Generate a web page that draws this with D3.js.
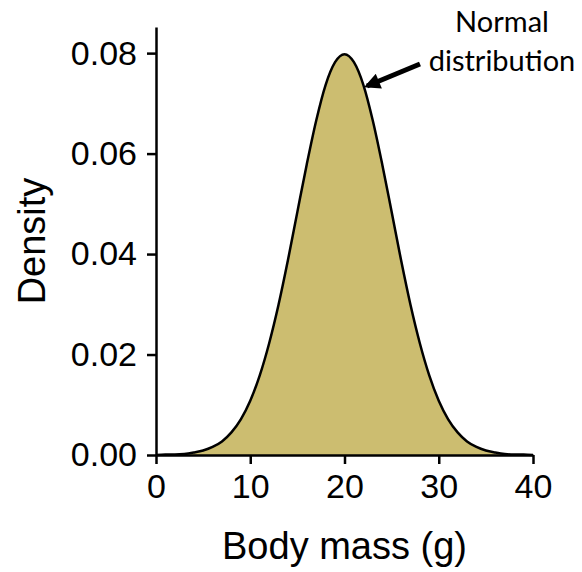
<!DOCTYPE html>
<html>
<head>
<meta charset="utf-8">
<script src="https://cdn.jsdelivr.net/npm/d3@7"></script>
<style>
  body { margin: 0; background: #fff; }
</style>
</head>
<body>
<div id="chart"></div>
<script>
const width = 582;
const height = 572;
const font = "'Liberation Sans', Arial, Helvetica, sans-serif";

const mass = d3.range(0, 41);
const density = [
  0.0000, 0.0001, 0.0001, 0.0002, 0.0005, 0.0009, 0.0016, 0.0027, 0.0045, 0.0071,
  0.0108, 0.0158, 0.0222, 0.0299, 0.0388, 0.0484, 0.0579, 0.0666, 0.0737, 0.0782,
  0.0798,
  0.0782, 0.0737, 0.0666, 0.0579, 0.0484, 0.0388, 0.0299, 0.0222, 0.0158, 0.0108,
  0.0071, 0.0045, 0.0027, 0.0016, 0.0009, 0.0005, 0.0002, 0.0001, 0.0001, 0.0000
];
const xTicks = [0, 10, 20, 30, 40];
const yTicks = [0, 0.02, 0.04, 0.06, 0.08];
const annotation = ["Normal", "distribution"];

const data = mass.map((m, i) => ({ mass: m, density: density[i] }));

const svg = d3.select("#chart").append("svg")
  .attr("width", width)
  .attr("height", height);

const x = d3.scaleLinear().domain([0, 40]).range([156, 533]);
const y = d3.scaleLinear().domain([0, 0.0852]).range([455, 27]);

const area = d3.area()
  .x(d => x(d.mass))
  .y0(y(0))
  .y1(d => y(d.density))
  .curve(d3.curveMonotoneX);

const line = d3.line()
  .x(d => x(d.mass))
  .y(d => y(d.density))
  .curve(d3.curveMonotoneX);

svg.append("path")
  .datum(data)
  .attr("fill", "#ccbd70")
  .attr("d", area);

svg.append("path")
  .datum(data)
  .attr("fill", "none")
  .attr("stroke", "#000")
  .attr("stroke-width", 2.5)
  .attr("d", line);

// axes
const xAxis = svg.append("g")
  .attr("transform", `translate(0,${y(0)})`)
  .call(d3.axisBottom(x).tickValues(xTicks).tickSize(9).tickPadding(10).tickSizeOuter(0));

const yAxis = svg.append("g")
  .attr("transform", `translate(${x(0)},0)`)
  .call(d3.axisLeft(y).tickValues(yTicks).tickSize(9).tickPadding(10).tickSizeOuter(0)
    .tickFormat(d3.format(".2f")));

[xAxis, yAxis].forEach(ax => {
  ax.attr("font-family", font);
  ax.select("path.domain").attr("stroke", "#000").attr("stroke-width", 2.5);
  ax.selectAll(".tick line").attr("stroke", "#000").attr("stroke-width", 2.5);
  ax.selectAll(".tick text").attr("fill", "#000").attr("font-size", 34);
});

// axis titles
svg.append("text")
  .attr("x", (x(0) + x(40)) / 2)
  .attr("y", 559)
  .attr("text-anchor", "middle")
  .attr("font-family", font)
  .attr("font-size", 38)
  .attr("fill", "#000")
  .text("Body mass (g)");

svg.append("text")
  .attr("transform", `translate(45,${(y(0) + 27) / 2}) rotate(-90)`)
  .attr("text-anchor", "middle")
  .attr("font-family", font)
  .attr("font-size", 38)
  .attr("fill", "#000")
  .text("Density");

// annotation arrow
svg.append("defs").append("marker")
  .attr("id", "head")
  .attr("viewBox", "0 0 10 10")
  .attr("refX", 8)
  .attr("refY", 5)
  .attr("markerWidth", 3.6)
  .attr("markerHeight", 3.2)
  .attr("orient", "auto")
  .append("path")
  .attr("d", "M0,0L10,5L0,10Z")
  .attr("fill", "#000");

svg.append("line")
  .attr("x1", 420)
  .attr("y1", 64)
  .attr("x2", 367)
  .attr("y2", 86)
  .attr("stroke", "#000")
  .attr("stroke-width", 5)
  .attr("marker-end", "url(#head)");

svg.selectAll(".note")
  .data(annotation)
  .join("text")
  .attr("class", "note")
  .attr("x", 502)
  .attr("y", (d, i) => 32 + i * 39)
  .attr("text-anchor", "middle")
  .attr("font-family", "Lato, 'Open Sans', sans-serif")
  .attr("font-size", 29)
  .attr("fill", "#000")
  .text(d => d);
</script>
</body>
</html>
